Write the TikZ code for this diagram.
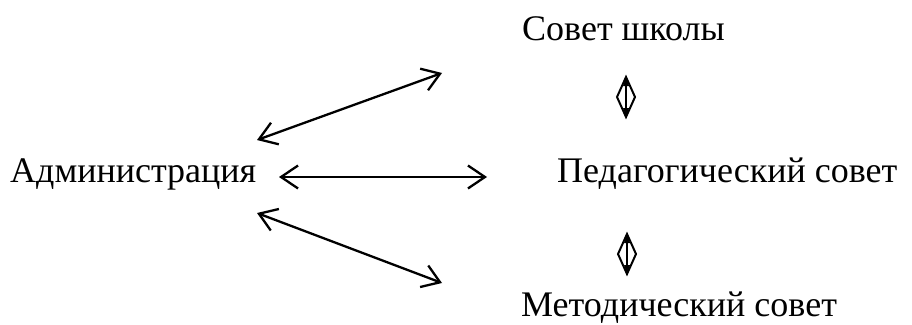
\documentclass[tikz,border=0pt]{standalone}
\usepackage{fontspec}
\setmainfont{Liberation Serif}
\usetikzlibrary{arrows.meta}
\tikzset{
  lbl/.style={anchor=base west, inner sep=0pt, font=\fontsize{36}{40}\selectfont},
  link/.style={line width=2.3pt, {Straight Barb[length=17pt,width=23pt,line width=2.3pt]}-{Straight Barb[length=17pt,width=23pt,line width=2.3pt]}},
  dbl/.style={line width=2pt, line join=miter}
}
\begin{document}
\begin{tikzpicture}[x=1pt,y=-1pt]
\useasboundingbox (0,0) rectangle (912,324);
\node[lbl] (adm) at (10,182) {Администрация};
\node[lbl] (sovet) at (522,40) {Совет школы};
\node[lbl] (ped) at (557,182) {Педагогический совет};
\node[lbl] (met) at (521,316) {Методический совет};
\coordinate (a1) at (257,140); \coordinate (s1) at (442,73);
\coordinate (a2) at (279,177); \coordinate (p2) at (487,177);
\coordinate (a3) at (257,213); \coordinate (m3) at (442,283);
\draw[link] (a1) -- (s1);
\draw[link] (a2) -- (p2);
\draw[link] (a3) -- (m3);
% hollow up-down arrows
\foreach \n/\cx/\cy in {u/626/97, d/627/254}{
  \coordinate (\n t) at (\cx,\cy-20);
  \coordinate (\n b) at (\cx,\cy+20);
  \draw[dbl] (\n t) -- (\cx-9,\cy) -- (\n b) -- (\cx+9,\cy) -- cycle;
  \draw[line width=2pt] (\n t) -- (\n b);
  \fill (\n t) -- (\cx-3,\cy-11) -- (\cx+3,\cy-11) -- cycle;
  \fill (\n b) -- (\cx-3,\cy+11) -- (\cx+3,\cy+11) -- cycle;
}
\end{tikzpicture}
\end{document}
